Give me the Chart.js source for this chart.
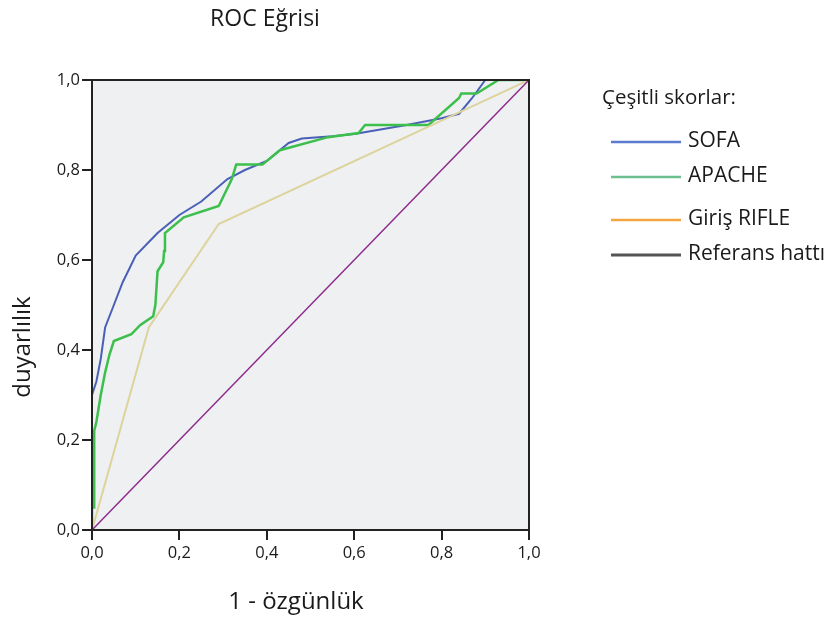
<!DOCTYPE html>
<html>
<head>
<meta charset="utf-8">
<script src="https://cdn.jsdelivr.net/npm/chart.js@4.4.1/dist/chart.umd.min.js"></script>
<style>
  html, body { margin: 0; padding: 0; background: #ffffff; }
  #wrap { width: 832px; height: 619px; position: relative; }
</style>
</head>
<body>
<div id="wrap"><canvas id="c" width="832" height="619"></canvas></div>
<script>
// ---- data ----
const chartTitle = "ROC Eğrisi";
const xAxisTitle = "1 - özgünlük";
const yAxisTitle = "duyarlılık";
const legendTitle = "Çeşitli skorlar:";
const seriesNames = ["SOFA", "APACHE", "Giriş RIFLE", "Referans hattı"];
const tickValues = [0, 0.2, 0.4, 0.6, 0.8, 1.0];

const sofaX = [0, 0, 0.01, 0.02, 0.03, 0.05, 0.07, 0.10, 0.15, 0.20, 0.25, 0.31, 0.35, 0.40, 0.45, 0.48, 0.55, 0.60, 0.72, 0.80, 0.84, 0.87, 0.90, 0.93, 1.0];
const sofaY = [0, 0.30, 0.33, 0.38, 0.45, 0.50, 0.55, 0.61, 0.66, 0.70, 0.73, 0.78, 0.80, 0.82, 0.86, 0.87, 0.875, 0.88, 0.90, 0.915, 0.925, 0.96, 1.0, 1.0, 1.0];

const apacheX = [0, 0, 0.005, 0.005, 0.01, 0.02, 0.03, 0.04, 0.05, 0.09, 0.11, 0.14, 0.145, 0.15, 0.163, 0.165, 0.167, 0.21, 0.29, 0.32, 0.33, 0.39, 0.43, 0.54, 0.61, 0.625, 0.77, 0.84, 0.845, 0.88, 0.93, 1.0];
const apacheY = [0, 0.05, 0.05, 0.22, 0.24, 0.30, 0.35, 0.39, 0.42, 0.435, 0.455, 0.475, 0.50, 0.575, 0.595, 0.62, 0.66, 0.695, 0.72, 0.78, 0.812, 0.812, 0.844, 0.873, 0.882, 0.90, 0.90, 0.96, 0.97, 0.97, 1.0, 1.0];

const rifleX = [0, 0.13, 0.29, 1.0];
const rifleY = [0, 0.45, 0.68, 1.0];

const refX = [0, 1];
const refY = [0, 1];

const lineColors = ["#4a60b8", "#3cbf4c", "#ddd39c", "#8c2a8c"];
const legendColors = ["#5a7bd0", "#6cc08e", "#f5a640", "#555555"];

function pts(xs, ys) { return xs.map((x, i) => ({ x: x, y: ys[i] })); }

const FONT = "'Open Sans', 'Noto Sans', sans-serif";

const decor = {
  id: 'decor',
  beforeDraw(chart) {
    const { ctx, chartArea: a } = chart;
    ctx.save();
    ctx.fillStyle = '#eff0f1';
    ctx.fillRect(a.left, a.top, a.right - a.left, a.bottom - a.top);
    ctx.restore();
  },
  afterDraw(chart) {
    const { ctx, chartArea: a } = chart;
    ctx.save();
    // box border
    ctx.strokeStyle = '#222';
    ctx.lineWidth = 2;
    ctx.strokeRect(a.left, a.top, a.right - a.left, a.bottom - a.top);
    // title
    ctx.fillStyle = '#1a1a1a';
    ctx.textBaseline = 'middle';
    ctx.textAlign = 'center';
    ctx.font = "23px " + FONT;
    ctx.fillText(chartTitle, 265, 19);
    // x title
    ctx.font = "24px " + FONT;
    ctx.fillText(xAxisTitle, 296, 602);
    // y title
    ctx.save();
    ctx.translate(23, 347);
    ctx.rotate(-Math.PI / 2);
    ctx.fillText(yAxisTitle, 0, 0);
    ctx.restore();
    // legend
    ctx.textAlign = 'left';
    ctx.font = "20.5px " + FONT;
    ctx.fillText(legendTitle, 602, 98);
    const ys = [142, 177, 220, 255];
    ctx.font = "21px " + FONT;
    seriesNames.forEach((n, i) => {
      ctx.strokeStyle = legendColors[i];
      ctx.lineWidth = i === 3 ? 3 : 2.5;
      ctx.beginPath();
      ctx.moveTo(611, ys[i]);
      ctx.lineTo(681, ys[i]);
      ctx.stroke();
      ctx.fillStyle = '#1a1a1a';
      ctx.fillText(n, 688, ys[i] - 1);
    });
    ctx.restore();
  }
};

const fmt = v => (Math.round(v * 10) / 10).toFixed(1).replace('.', ',');

new Chart(document.getElementById('c'), {
  type: 'line',
  data: {
    datasets: [
      { label: seriesNames[3], data: pts(refX, refY), borderColor: lineColors[3], borderWidth: 1.5 },
      { label: seriesNames[2], data: pts(rifleX, rifleY), borderColor: lineColors[2], borderWidth: 2 },
      { label: seriesNames[1], data: pts(apacheX, apacheY), borderColor: lineColors[1], borderWidth: 2.5 },
      { label: seriesNames[0], data: pts(sofaX, sofaY), borderColor: lineColors[0], borderWidth: 2 }
    ]
  },
  options: {
    responsive: false,
    animation: false,
    devicePixelRatio: 1,
    elements: { point: { radius: 0 }, line: { tension: 0, fill: false } },
    layout: { padding: { top: 80, right: 303, left: 0, bottom: 0 } },
    plugins: { legend: { display: false }, title: { display: false }, tooltip: { enabled: false } },
    scales: {
      x: {
        type: 'linear', min: 0, max: 1,
        afterFit: s => { s.height = 89; },
        afterBuildTicks: s => { s.ticks = tickValues.map(v => ({ value: v })); },
        ticks: { callback: v => fmt(v), color: '#1a1a1a', font: { size: 16.5, family: FONT }, padding: 3, maxRotation: 0 },
        grid: { display: true, drawOnChartArea: false, drawTicks: true, tickLength: 10, color: '#222', lineWidth: 2 },
        border: { display: true, color: '#222', width: 2 }
      },
      y: {
        type: 'linear', min: 0, max: 1,
        afterFit: s => { s.width = 92; },
        afterBuildTicks: s => { s.ticks = tickValues.map(v => ({ value: v })); },
        ticks: { callback: v => fmt(v), color: '#1a1a1a', font: { size: 16.5, family: FONT }, padding: 2 },
        grid: { display: true, drawOnChartArea: false, drawTicks: true, tickLength: 10, color: '#222', lineWidth: 2 },
        border: { display: true, color: '#222', width: 2 }
      }
    }
  },
  plugins: [decor]
});
</script>
</body>
</html>
